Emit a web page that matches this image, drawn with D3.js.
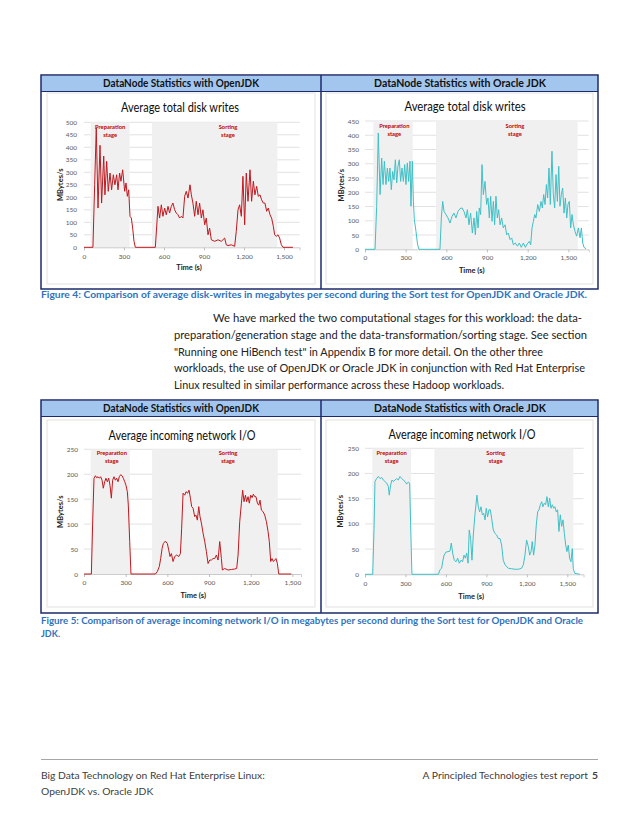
<!DOCTYPE html>
<html><head><meta charset="utf-8">
<script src="https://cdn.jsdelivr.net/npm/d3@7"></script>
<style>
body{margin:0;background:#fff}
svg{display:block}
text{font-family:Lato,'Open Sans',sans-serif}
</style>
</head><body>
<svg id="page" width="638" height="826"></svg>
<script>
// ---------------- DATA ----------------
const headerLabels = ["DataNode Statistics with OpenJDK", "DataNode Statistics with Oracle JDK"];
const chartTitles = ["Average total disk writes", "Average incoming network I/O"];
const yAxisTitle = "MBytes/s";
const xAxisTitle = "Time (s)";
const xTicks = [0, 300, 600, 900, 1200, 1500];
const yTicksDiskOpenJDK = [0, 50, 100, 150, 200, 250, 300, 350, 400, 450, 500];
const yTicksDiskOracle = [0, 50, 100, 150, 200, 250, 300, 350, 400, 450];
const yTicksNet = [0, 50, 100, 150, 200, 250];
const stageNames = [["Preparation", "stage"], ["Sorting", "stage"]];

// [time (s), MBytes/s]
const diskOpenJDK = [[0,0],[67,0],[80,250],[92,477],[105,157],[120,408],[132,177],[148,365],[157,210],[170,344],[182,224],[195,297],[207,230],[220,290],[232,250],[245,290],[255,230],[267,297],[277,264],[290,310],[305,224],[315,257],[325,204],[335,230],[345,124],[355,117],[365,77],[375,24],[385,0],[535,0],[555,164],[567,117],[580,170],[592,124],[605,157],[617,130],[630,164],[642,137],[655,164],[667,177],[680,150],[692,137],[705,130],[717,117],[730,124],[742,117],[755,204],[767,224],[780,197],[795,250],[805,210],[817,177],[830,124],[842,184],[855,130],[867,177],[880,117],[892,150],[905,90],[917,117],[930,50],[942,77],[955,30],[980,24],[1005,30],[1030,24],[1055,37],[1067,10],[1080,7],[1105,10],[1130,4],[1142,64],[1155,150],[1167,170],[1180,124],[1192,284],[1205,90],[1217,297],[1230,184],[1245,310],[1257,184],[1270,264],[1282,210],[1295,244],[1307,204],[1320,210],[1332,190],[1345,177],[1357,177],[1370,144],[1382,157],[1395,130],[1407,117],[1420,84],[1430,50],[1442,44],[1455,50],[1467,37],[1480,10],[1492,0],[1567,0]];

const diskOracleJDK = [[0,0],[74,0],[86,150],[98,408],[111,192],[123,320],[133,227],[143,309],[155,227],[165,285],[175,238],[184,285],[194,209],[204,273],[214,244],[224,314],[234,233],[243,291],[253,314],[263,238],[273,285],[283,238],[293,297],[302,227],[312,303],[322,238],[332,309],[339,151],[349,309],[357,168],[364,104],[376,63],[388,16],[398,0],[553,0],[563,110],[573,168],[583,133],[597,122],[612,110],[627,92],[642,116],[656,127],[671,110],[686,133],[701,143],[716,145],[730,133],[745,110],[755,139],[767,86],[779,127],[792,57],[804,110],[814,51],[824,133],[834,75],[843,145],[853,122],[863,297],[873,192],[885,238],[897,157],[907,180],[917,110],[927,186],[937,98],[947,168],[956,86],[966,186],[976,110],[986,139],[996,86],[1008,110],[1020,75],[1033,86],[1045,51],[1057,57],[1070,34],[1082,40],[1094,16],[1109,22],[1124,11],[1138,22],[1153,7],[1168,22],[1183,7],[1197,19],[1212,28],[1222,16],[1232,75],[1242,98],[1252,122],[1261,110],[1274,157],[1286,133],[1298,168],[1308,145],[1318,192],[1328,157],[1338,227],[1347,180],[1357,285],[1367,157],[1379,344],[1389,192],[1399,145],[1409,262],[1419,168],[1429,291],[1438,151],[1448,192],[1458,215],[1468,127],[1478,180],[1488,110],[1497,157],[1507,168],[1517,75],[1527,122],[1537,86],[1549,63],[1561,46],[1574,75],[1586,40],[1596,75],[1606,22],[1615,7],[1630,2]];

const netOpenJDK = [[0,0],[53,0],[62,100],[72,192],[82,197],[91,193],[101,195],[110,192],[120,195],[130,188],[139,172],[149,185],[158,192],[168,185],[178,192],[187,178],[197,152],[206,188],[216,195],[226,188],[235,192],[245,185],[254,195],[264,199],[274,197],[283,192],[293,185],[302,178],[312,165],[319,138],[329,65],[338,0],[514,0],[528,5],[542,15],[552,31],[562,51],[571,61],[586,66],[600,61],[610,48],[619,35],[629,41],[641,25],[653,35],[667,38],[682,35],[694,41],[703,92],[713,162],[725,158],[734,165],[746,162],[756,168],[766,152],[775,135],[785,132],[797,115],[806,118],[816,108],[826,135],[835,115],[845,102],[857,82],[869,65],[881,45],[893,21],[905,28],[917,28],[929,31],[941,31],[953,38],[965,28],[977,65],[989,31],[996,8],[1013,11],[1037,8],[1061,9],[1085,10],[1099,11],[1109,38],[1121,105],[1133,142],[1142,168],[1152,145],[1162,158],[1171,145],[1181,155],[1190,142],[1200,158],[1210,153],[1219,160],[1229,155],[1238,155],[1248,142],[1258,138],[1267,148],[1277,128],[1289,125],[1301,118],[1313,105],[1325,85],[1334,65],[1344,25],[1353,31],[1363,25],[1373,28],[1382,31],[1392,21],[1402,0],[1493,0]];

const netOracleJDK = [[0,0],[57,0],[67,91],[74,184],[86,190],[99,194],[111,190],[124,192],[136,187],[148,184],[161,181],[173,174],[180,157],[190,177],[200,187],[210,184],[222,187],[235,190],[247,187],[259,194],[272,190],[284,187],[297,184],[309,179],[321,183],[331,181],[341,71],[348,0],[544,0],[556,9],[568,12],[576,25],[586,38],[600,44],[615,45],[630,46],[640,62],[650,42],[662,28],[675,25],[687,32],[699,22],[712,28],[724,25],[734,38],[744,32],[754,42],[764,22],[773,88],[783,71],[793,28],[803,78],[815,118],[830,157],[840,134],[850,124],[860,134],[870,118],[880,121],[890,108],[899,131],[909,114],[919,128],[929,128],[939,111],[951,88],[964,81],[976,78],[988,71],[1001,71],[1013,58],[1025,28],[1038,19],[1062,12],[1087,11],[1112,10],[1137,10],[1161,12],[1174,19],[1186,38],[1198,68],[1211,55],[1221,38],[1231,45],[1240,65],[1250,38],[1260,58],[1270,98],[1280,124],[1290,128],[1300,138],[1310,144],[1319,134],[1329,141],[1339,138],[1349,154],[1359,134],[1369,151],[1379,131],[1389,138],[1399,131],[1408,134],[1418,124],[1428,128],[1438,85],[1448,118],[1458,95],[1468,108],[1478,81],[1488,58],[1497,45],[1507,58],[1517,32],[1527,25],[1537,51],[1544,12],[1554,2],[1594,0]];

// stage spans [start, end] in seconds and label anchor time
const prepStages = [[50,342],[61,352],[48,330],[54,341]];
const sortStages = [[510,1450],[524,1569],[490,1395],[514,1544]];
const prepLabelAt = [196,216,200,198];
const sortLabelAt = [1080,1106,1037,969];
const xMaxes = [1617,1650,1562,1620];

const captionFig4 = "Figure 4: Comparison of average disk-writes in megabytes per second during the Sort test for OpenJDK and Oracle JDK.";
const captionFig5 = ["Figure 5: Comparison of average incoming network I/O in megabytes per second during the Sort test for OpenJDK and Oracle", "JDK."];
const paragraph = [
 "We have marked the two computational stages for this workload: the data-",
 "preparation/generation stage and the data-transformation/sorting stage. See section",
 "\"Running one HiBench test\" in Appendix B for more detail. On the other three",
 "workloads, the use of OpenJDK or Oracle JDK in conjunction with Red Hat Enterprise",
 "Linux resulted in similar performance across these Hadoop workloads."
];
const footerLeft = ["Big Data Technology on Red Hat Enterprise Linux:", "OpenJDK vs. Oracle JDK"];
const footerRight = "A Principled Technologies test report";
const pageNumber = "5";

// ---------------- LAYOUT ----------------
const svg = d3.select("#page");
const RED = "#c0181f", TEAL = "#3fc0c6", NAVY = "#1c2a6b", HEAD = "#a3c6ef", CAP = "#2f73bd";
const fmt = d3.format(",");
const headerWidths = [156, 172];

function table(y0, y1) {
  const g = svg.append("g");
  g.append("rect").attr("x", 41).attr("y", y0 + 1).attr("width", 557).attr("height", 15).attr("fill", HEAD);
  g.append("rect").attr("x", 41).attr("y", y0).attr("width", 557).attr("height", y1 - y0)
    .attr("fill", "none").attr("stroke", NAVY).attr("stroke-width", 1.5);
  g.append("line").attr("x1", 41).attr("x2", 598).attr("y1", y0 + 16.5).attr("y2", y0 + 16.5).attr("stroke", NAVY).attr("stroke-width", 1.2);
  g.append("line").attr("x1", 321).attr("x2", 321).attr("y1", y0).attr("y2", y1).attr("stroke", NAVY).attr("stroke-width", 1.5);
  g.selectAll("text.h").data(headerLabels).join("text")
    .attr("x", (d, i) => i ? 460 : 181).attr("y", y0 + 12)
    .attr("text-anchor", "middle").attr("font-size", 10.5).attr("font-weight", 700).attr("fill", "#111")
    .attr("textLength", (d, i) => headerWidths[i]).attr("lengthAdjust", "spacingAndGlyphs").text(d => d);
}
table(75, 289);
table(400, 613);

const charts = [
  {data: diskOpenJDK, color: RED, title: chartTitles[0], tw: 118, yTicks: yTicksDiskOpenJDK, frame: [47, 93, 315, 284], xr: [84, 299.6], yr: [247.3, 122.3], titleX: 180, titleY: 111.5, tickY: 259, xtY: 270, ylX: 60, ytX: 77, stY: 127},
  {data: diskOracleJDK, color: TEAL, title: chartTitles[0], tw: 121, yTicks: yTicksDiskOracle, frame: [326, 93, 593, 284], xr: [365, 588.7], yr: [249.3, 121], titleX: 465, titleY: 110.5, tickY: 260, xtY: 273, ylX: 341, ytX: 359, stY: 126},
  {data: netOpenJDK, color: RED, title: chartTitles[1], tw: 147, yTicks: yTicksNet, frame: [47, 420, 315, 607], xr: [84, 301], yr: [574, 449.3], titleX: 182, titleY: 439.5, tickY: 585, xtY: 598, ylX: 60, ytX: 78, stY: 453},
  {data: netOracleJDK, color: TEAL, title: chartTitles[1], tw: 147, yTicks: yTicksNet, frame: [326, 420, 593, 607], xr: [365, 583.5], yr: [574.3, 448.3], titleX: 462, titleY: 438.5, tickY: 586, xtY: 599, ylX: 340, ytX: 359, stY: 453}
];

charts.forEach((c, i) => {
  const g = svg.append("g");
  const x = d3.scaleLinear().domain([0, xMaxes[i]]).range(c.xr);
  const y = d3.scaleLinear().domain([0, d3.max(c.yTicks)]).range(c.yr);
  g.append("rect").attr("x", c.frame[0]).attr("y", c.frame[1]).attr("width", c.frame[2] - c.frame[0]).attr("height", c.frame[3] - c.frame[1])
    .attr("fill", "#fff").attr("stroke", "#d9d9d9").attr("stroke-width", 0.8);
  g.append("text").attr("x", c.titleX).attr("y", c.titleY).attr("text-anchor", "middle")
    .attr("font-size", 13).attr("fill", "#0d0d0d").attr("textLength", c.tw).attr("lengthAdjust", "spacingAndGlyphs").text(c.title);
  // gridlines
  g.selectAll("line.grid").data(c.yTicks.filter(t => t > 0)).join("line")
    .attr("x1", c.xr[0]).attr("x2", c.xr[1]).attr("y1", d => y(d)).attr("y2", d => y(d))
    .attr("stroke", "#d9d9d9").attr("stroke-width", 0.8);
  // stage shading
  [prepStages[i], sortStages[i]].forEach(s => {
    g.append("rect").attr("x", x(s[0])).attr("width", x(s[1]) - x(s[0]))
      .attr("y", y(d3.max(c.yTicks))).attr("height", y(0) - y(d3.max(c.yTicks))).attr("fill", "#f0f0f0");
  });
  // axes
  const yAxis = d3.axisLeft(y).tickValues(c.yTicks).tickSize(0).tickPadding(0).tickFormat(fmt);
  const ya = g.append("g").attr("transform", `translate(${c.ytX},0)`).call(yAxis);
  ya.select(".domain").remove();
  ya.selectAll("text").attr("font-size", 6.5).attr("fill", "#595959").attr("font-family", "Lato, sans-serif").attr("dy", "0.32em");
  const xAxis = d3.axisBottom(x).tickValues(xTicks).tickSize(3).tickFormat(fmt);
  const xa = g.append("g").attr("transform", `translate(0,${y(0)})`).call(xAxis);
  xa.select(".domain").attr("stroke", "#bfbfbf").attr("stroke-width", 0.8);
  xa.selectAll(".tick line").attr("stroke", "#bfbfbf");
  xa.selectAll("text").attr("font-size", 6.5).attr("fill", "#595959").attr("font-family", "Lato, sans-serif")
    .attr("y", c.tickY - y(0)).attr("dy", 0);
  // stage labels
  [[prepLabelAt[i], stageNames[0]], [sortLabelAt[i], stageNames[1]]].forEach(([t, lines]) => {
    lines.forEach((s, k) => g.append("text").attr("x", x(t)).attr("y", c.stY + k * 7.5 + 2)
      .attr("text-anchor", "middle").attr("font-size", 5.8).attr("font-weight", 700).attr("fill", "#c00000").text(s));
  });
  // line
  const line = d3.line().x(d => x(d[0])).y(d => y(d[1]));
  g.append("path").datum(c.data).attr("d", line).attr("fill", "none").attr("stroke", c.color).attr("stroke-width", 1).attr("stroke-linejoin", "round");
  // axis titles
  g.append("text").attr("x", (c.xr[0] + 1500 * (c.xr[1] - c.xr[0]) / xMaxes[i] + c.xr[0]) / 2 + 5).attr("y", c.xtY).attr("text-anchor", "middle")
    .attr("font-size", 7.5).attr("font-weight", 700).attr("fill", "#222").text(xAxisTitle);
  g.append("text").attr("transform", `translate(${c.ylX},${(c.yr[0] + c.yr[1]) / 2}) rotate(-90)`).attr("text-anchor", "middle").attr("dy", "0.35em")
    .attr("font-size", 7.5).attr("font-weight", 700).attr("fill", "#222").text(yAxisTitle);
});

// captions
svg.append("text").attr("x", 41).attr("y", 298).attr("font-size", 9).attr("font-weight", 700).attr("fill", CAP)
  .attr("textLength", 546).attr("lengthAdjust", "spacingAndGlyphs").text(captionFig4);
captionFig5.forEach((s, k) => {
  const t = svg.append("text").attr("x", 41).attr("y", 624 + k * 13).attr("font-size", 9).attr("font-weight", 700).attr("fill", CAP).text(s);
  if (k === 0) t.attr("textLength", 542).attr("lengthAdjust", "spacingAndGlyphs");
});

// paragraph
const paraWidths = [369, 413, 369, 411, 330];
paragraph.forEach((s, k) => svg.append("text").attr("x", k ? 174 : 213).attr("y", 322 + k * 16.8)
  .attr("font-size", 11.3).attr("fill", "#222").attr("textLength", paraWidths[k]).attr("lengthAdjust", "spacingAndGlyphs").text(s));

// footer
svg.append("line").attr("x1", 41).attr("x2", 598).attr("y1", 759.5).attr("y2", 759.5).attr("stroke", "#a6a6a6").attr("stroke-width", 1);
footerLeft.forEach((s, k) => svg.append("text").attr("x", 41).attr("y", 779 + k * 16).attr("font-size", 10.3).attr("fill", "#404040").text(s));
svg.append("text").attr("x", 588).attr("y", 779).attr("text-anchor", "end").attr("font-size", 10.3).attr("fill", "#404040").text(footerRight);
svg.append("text").attr("x", 592).attr("y", 779).attr("font-size", 10.3).attr("font-weight", 700).attr("fill", "#404040").text(pageNumber);
</script>
</body></html>
